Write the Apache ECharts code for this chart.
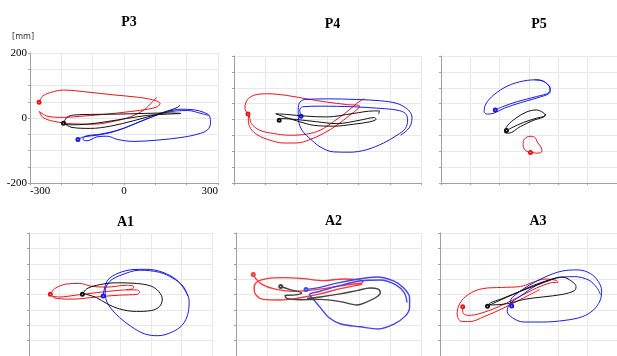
<!DOCTYPE html>
<html><head><meta charset="utf-8">
<script src="https://cdn.jsdelivr.net/npm/echarts@6/dist/echarts.min.js"></script>
<style>html,body{margin:0;padding:0;background:#fff}#c{width:617px;height:356px}</style>
</head><body><div id="c"></div>
<script>
const panelTitles = ['P3','P4','P5','A1','A2','A3'];
const xTickLabels = [-300, 0, 300];
const yTickLabels = [-200, 0, 200];
const unitLabel = '[mm]';

const p3Red = [[-271,48.5],[-259,68],[-225,81],[-193,86],[-118,80],[-32,71],[43,64],[91,56],[115,45],[107,35],[75,27],[21,20],[-54,12],[-129,6],[-193,2],[-246,6],[-270,20],[-259,2],[-225,-10],[-161,-18],[-96,-19],[-32,-10],[21,4],[64,25],[91,50],[105,64]];
const p3Black = [[-193,-16.5],[-182,2],[-161,9],[-107,11],[-21,12],[64,14],[139,15.5],[182,14],[139,12],[75,8],[11,-1],[-54,-11],[-118,-19],[-171,-21],[-188,-19],[-166,-29],[-107,-32],[-43,-25],[32,-8],[96,9],[150,25],[171,33],[179,39]];
const p3Blue = [[-147,-66],[-129,-58],[-86,-53],[-32,-42],[32,-19],[86,2],[139,20],[182,27],[225,25],[257,16.5],[273,6],[276,-16.5],[266,-37],[236,-49.5],[182,-60],[107,-68],[32,-72],[-21,-66],[-54,-56],[-86,-58],[-118,-70],[-131,-66],[-123,-56],[-75,-49.5],[-11,-35],[64,-6],[129,16.5],[204,23],[246,14],[270,8]];

const p4Red = [[-255,17],[-265,35],[-258,61],[-234,77],[-191,81],[-132,76],[-67,65],[-3,55],[62,47],[103,43],[99,35],[72,14],[30,-18],[-13,-44],[-56,-63],[-99,-74],[-142,-74],[-185,-65],[-223,-49.5],[-247,-28],[-254,-2],[-252,14],[-244,-13],[-217,-34],[-174,-44],[-121,-49.5],[-67,-46],[-24,-34],[19,-7],[62,24],[94,50.5],[118,66]];
const p4Black = [[-155,-2],[-148,3],[-99,0],[-35,-7],[30,-13],[105,-2],[150,6],[156,1],[137,-7],[83,-15],[19,-21],[-46,-18],[-89,-7],[-132,6],[-166,18],[-132,16],[-67,10.5],[-3,8],[83,19],[148,27],[167,27],[164,17]];
const p4Blue = [[-85,10.5],[-89,29.5],[-80,40],[-24,42],[83,40],[169,35],[223,29.5],[250,19],[257,-2],[250,-28],[223,-49.5],[180,-74],[126,-95],[72,-103],[19,-102],[-24,-86],[-56,-60],[-78,-39],[-91,-13],[-94,24],[-91,50.5],[-73,63],[-3,65],[94,63],[169,59],[223,50.5],[257,32],[271,8],[268,-15],[255,-34],[234,-49.5]];

const p5Red = [[5,-104],[-13,-97],[-20,-80],[-16,-62],[3,-53],[19,-55.5],[30,-74],[41,-87],[44,-100.5],[30,-106],[9,-104]];
const p5Black = [[-77,-35],[-61,-27],[-18,-9],[25,4],[55,13],[48,22],[25,30],[-7.5,24],[-45,4],[-74,-20],[-83,-41],[-70,-43],[-29,-22],[14,-3],[52,9],[57,18]];
const p5Blue = [[-115,30],[-93.5,39],[-40,56.5],[25,72],[68,85],[71,98],[57,116],[30,125],[-18,121.5],[-72,106],[-120,77.5],[-147,49],[-153,25],[-142,17],[-120,20],[-83,36],[-29,53],[35.5,70],[70,83],[73,95],[52,119],[19,125]];

const a1Red = [[-230,0.5],[-216,19],[-178,34],[-134,36],[-96,27],[-46,24],[19,30],[43,26],[39,18],[-14,13],[-79,6],[-145,-2],[-200,-8],[-224,-6],[-210,-13],[-156,-15],[-79,-8],[-3,-2],[54,0.5],[63,8],[52,15],[19,15]];
const a1Black = [[-125,0.5],[-110,19],[-68,32],[-14,38],[52,36],[101,27],[126,9],[137,-15],[128,-39],[101,-52],[52,-55],[-3,-47],[-46,-29],[-79,-10],[-112,0.5],[-123,2.6]];
const a1Blue = [[-57,-5],[-52,21.5],[-41,48],[-8,69],[41,81],[85,82],[139,72],[183,48],[210,16],[225,-20.5],[221,-62.5],[203,-99],[167,-123],[123,-134],[79,-128],[35.5,-104.5],[-3,-75],[-30,-47],[-46,-20.5],[-50,11],[-35.5,42.5],[3,63.5],[63,79],[128,72],[172,53],[205,27],[221,-5]];

const a2Red = [[-244,65],[-235,50.5],[-217,34],[-179,19],[-114,10.5],[-38,16],[27,26],[81,34],[108,37],[111.5,42],[97.5,48],[49,50.5],[-16,45],[-81,51.6],[-146,55],[-200,51.6],[-233,40],[-241.5,21],[-235,-2],[-211,-16],[-157,-18],[-92,-10.5],[-27,2],[38,19],[92,29.5],[109,34]];
const a2Black = [[-155,26],[-125,16],[-87,5],[-114,-2],[-141,-3],[-135,-12.6],[-92,-17],[-27,-16],[38,-23],[92,-34],[124.5,-24],[152,-10.5],[168,5],[159,18],[135,21],[92,12.6],[38,2],[-27,-8],[-70,-12.6]];
const a2Blue = [[-73,16],[-27,23],[27,37],[92,49.5],[157,57],[211,44],[244,21],[263,-10.5],[263,-42],[247,-72],[211,-97],[162,-112],[103,-105],[38,-95],[0,-74],[-27,-42],[-49,-16],[-62,0],[-27,10.5],[38,29.5],[103,44],[168,47],[217,32],[246,5],[254.5,-26]];

const a3Red = [[-223,-40],[-223,-58],[-204,-68],[-161,-61],[-102,-40],[-38,-10.5],[27,21],[75,38],[100,40],[94,46],[59,50.5],[16,40],[-27,26],[-91,23],[-156,19],[-204,0],[-233,-29.5],[-242,-63],[-229,-87],[-199,-88],[-150.5,-72],[-91,-47],[-27,-16],[38,16]];
const a3Black = [[-139,-38],[-102,-21],[-48,2],[16,29.5],[81,50.5],[113,57],[140,47],[161,26],[156,12.6],[113,0],[48,-8],[-16,-16],[-70,-29.5],[-124,-34],[-134,-31.6],[-91,-14],[-27,10.5],[38,34],[91,52.6]];
const a3Blue = [[-57,-37],[-61,-21],[-43,0],[5,31.6],[59,58],[113,76],[167,80],[210,68],[237,42],[248,10.5],[242,-21],[220,-50.5],[183,-72],[124,-84],[48,-89.5],[-16,-89.5],[-54,-76],[-72,-55],[-64.5,-31.6],[-27,-5],[27,29.5],[91,52.6],[156,58],[204,47],[231,23],[244,0]];

const panelData = [
  [p3Red, p3Black, p3Blue],
  [p4Red, p4Black, p4Blue],
  [p5Red, p5Black, p5Blue],
  [a1Red, a1Black, a1Blue],
  [a2Red, a2Black, a2Blue],
  [a3Red, a3Black, a3Blue]
];

// layout & style (kept separate from data)
const layout = [
  {left:30, top:53, width:188, height:130, titleTop:10},
  {left:234, top:56, width:187, height:127, titleTop:12},
  {left:441, top:56, width:186, height:127, titleTop:12},
  {left:29, top:233, width:183, height:128, titleTop:210},
  {left:236, top:233, width:185, height:128, titleTop:209},
  {left:440, top:233, width:186, height:128, titleTop:209}
];
const colorSets = [
  {c:['#e8141c','#111111','#1a1ae6'], w:1},
  {c:['#e8141c','#111111','#1a1ae6'], w:1},
  {c:['#e8141c','#111111','#1a1ae6'], w:1},
  {c:['#e8141c','#111111','#1a1ae6'], w:1},
  {c:['#f03a3a','#444444','#4444ee'], w:1.4},
  {c:['#e8141c','#111111','#1a1ae6'], w:1}
];

const grids = [], xAxes = [], yAxes = [], series = [], titles = [];
layout.forEach((L, i) => {
  const showLabels = i === 0;
  grids.push({left:L.left, top:L.top, width:L.width, height:L.height, containLabel:false});
  titles.push({
    text: panelTitles[i], left: L.left + L.width/2, top: L.titleTop, textAlign:'center',
    textStyle:{fontFamily:'Liberation Serif', fontWeight:'bold', fontSize:14, color:'#000'}
  });
  xAxes.push({
    type:'value', gridIndex:i, min:-300, max:300, interval:100,
    axisLine:{show:true, onZero:false, lineStyle:{color:'#a0a0a0', width:1}},
    axisTick:{show:true, length:2, lineStyle:{color:'#a0a0a0'}},
    splitLine:{show:true, lineStyle:{color:'#e8e8e8', width:1}},
    axisLabel:{show:showLabels, margin:3, fontFamily:'Liberation Serif', fontSize:11, color:'#000',
      alignMinLabel:'left', alignMaxLabel:'right',
      formatter: v => xTickLabels.includes(v) ? String(v) : ''}
  });
  yAxes.push({
    type:'value', gridIndex:i, min:-200, max:200, interval:50,
    axisLine:{show:true, onZero:false, lineStyle:{color:'#a0a0a0', width:1}},
    axisTick:{show:true, length:2, lineStyle:{color:'#a0a0a0'}},
    splitLine:{show:true, lineStyle:{color:'#e8e8e8', width:1}},
    axisLabel:{show:showLabels, margin:3, fontFamily:'Liberation Serif', fontSize:11, color:'#000',
      formatter: v => yTickLabels.includes(v) ? String(v) : ''}
  });
  panelData[i].forEach((d, k) => {
    const col = colorSets[i].c[k];
    series.push({
      type:'line', xAxisIndex:i, yAxisIndex:i, data:d, smooth:0.35,
      symbol:'emptyCircle', showSymbol:true,
      symbolSize:(v, p) => p.dataIndex === 0 ? 3 : 0,
      lineStyle:{color:col, width:colorSets[i].w},
      itemStyle:{color:col, borderColor:col, borderWidth:1},
      silent:true, animation:false, z: k === 1 ? 3 : 2
    });
  });
});

const chart = echarts.init(document.getElementById('c'), null, {renderer:'canvas'});
chart.setOption({
  backgroundColor:'#fff',
  animation:false,
  title: titles,
  grid: grids, xAxis: xAxes, yAxis: yAxes, series: series,
  graphic:[{type:'text', left:12, top:32, style:{text:unitLabel, fontFamily:'DejaVu Sans Condensed', fontSize:9, fill:'#333'}}]
});
</script></body></html>
